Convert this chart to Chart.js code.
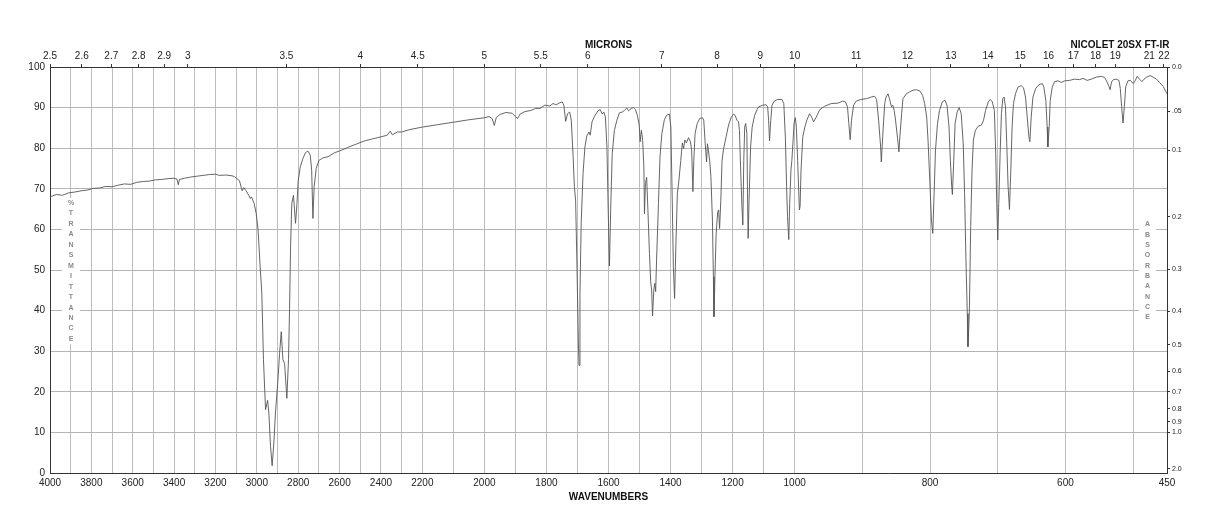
<!DOCTYPE html>
<html>
<head>
<meta charset="utf-8">
<script src="https://cdn.jsdelivr.net/npm/chart.js@4.4.1/dist/chart.umd.min.js"></script>
<style>
  body { margin: 0; background: #fff; }
</style>
</head>
<body>
<canvas id="ir" width="1218" height="528"></canvas>
<script>
// spectrum (wavenumber cm-1 / %T)
const wavenumbers = [
  4000,3970,3940,3910,3880,3850,3820,3790,3760,3730,
  3700,3670,3640,3610,3580,3550,3520,3490,3460,3430,
  3400,3386,3380,3374,3350,3320,3290,3260,3230,3200,
  3181,3150,3120,3108,3084,3071,3063,3052,3039,3032,
  3026,3013,3003,2994,2984,2976,2968,2958,2948,2942,
  2934,2926,2918,2910,2898,2890,2882,2874,2866,2855,
  2847,2842,2837,2831,2823,2813,2806,2800,2790,2777,
  2765,2753,2742,2735,2729,2723,2713,2700,2681,2656,
  2624,2600,2560,2520,2480,2440,2400,2370,2355,2345,
  2320,2300,2260,2220,2200,2150,2100,2050,2000,1985,
  1975,1968,1962,1950,1930,1910,1900,1893,1885,1870,
  1850,1835,1821,1805,1789,1779,1768,1757,1749,1744,
  1738,1732,1725,1720,1714,1710,1706,1702,1697,1695,
  1692,1688,1682,1676,1670,1663,1659,1653,1645,1634,
  1627,1620,1615,1610,1605,1601,1597,1593,1588,1581,
  1573,1565,1556,1549,1541,1535,1527,1520,1513,1507,
  1501,1498,1494,1490,1486,1484,1481,1477,1473,1468,
  1464,1461,1458,1454,1451,1448,1445,1439,1434,1428,
  1420,1413,1404,1399,1394,1391,1387,1383,1378,1373,
  1367,1362,1358,1354,1349,1342,1336,1332,1328,1325,
  1321,1314,1306,1297,1293,1289,1284,1281,1278,1274,
  1270,1265,1262,1260,1257,1253,1248,1245,1242,1238,
  1234,1229,1221,1213,1204,1197,1192,1186,1181,1178,
  1174,1170,1167,1164,1161,1158,1154,1152,1150,1147,
  1142,1137,1129,1121,1116,1103,1092,1087,1084,1081,
  1077,1073,1066,1055,1041,1035,1030,1026,1023,1019,
  1016,1012,1009,1005,1002,999,997.5,995.6,993,992,
  990.6,988,985,982,978,975,972,968,963,956,
  946,936,929,925,922,920,918,916,913,909,
  902,894,887,882,879,876,873,872,870,867,
  865,862,860,857,855,853,851,848,846,845,
  842,840,835,830,825,820,815,811,808,805,
  803,800,798,796,794,792,789,786,782,778,
  775,772,770,768,767,765,763,760,757,754,
  751,749,747,745,744,742,740,738,736,733,
  729,724,721,718,714,711,708,705,703,701.5,
  700,698.5,696.5,694.6,692.6,690.6,688.6,686.7,684.7,682.7,
  680.7,678.8,676.8,673.8,669.9,665.4,662,659,656.5,654,
  652.6,650.6,648,644,639,634,632,629,627,626,
  624,622.5,619.5,616,611,606,601,594,586.5,579,
  574,568,562,554.6,547,542,538.5,535.5,534,532,
  529,525,521,519,517,515,513,511,507.7,504,
  500,497,494,490,487,484,480,475,470.4,465.4,
  460.5,455.6,451.6,450
];
const transmittance = [
  68.0,68.6,68.4,69.0,69.2,69.5,69.7,70.1,70.2,70.6,
  70.5,70.9,71.2,71.1,71.6,71.8,71.9,72.2,72.3,72.5,
  72.6,72.4,71.0,72.3,72.6,72.9,73.1,73.3,73.5,73.6,
  73.3,73.4,73.2,73.0,72.0,69.5,70.3,69.5,68.4,67.6,
  68.0,66.4,63.9,59.8,50.8,44.3,27.9,15.6,17.9,14.8,
  6.6,1.8,7.4,14.8,23.0,29.5,34.8,27.9,27.0,18.4,
  27.9,40.2,55.7,66.4,68.4,61.5,66.4,72.1,75.4,77.5,
  78.9,79.3,78.3,74.6,62.7,70.5,75.0,77.0,77.6,77.9,
  78.9,79.3,80.2,81.0,81.8,82.3,82.8,83.2,84.2,83.3,
  84.0,84.0,84.6,85.0,85.2,85.8,86.4,87.0,87.5,87.8,
  87.3,85.6,87.5,88.3,88.8,88.6,87.8,87.3,88.4,89.0,
  89.3,89.8,89.8,90.6,90.4,91.0,90.7,91.2,91.4,90.6,
  86.6,88.5,88.9,86.9,77.9,70.5,67.2,52.5,32.0,26.5,
  44.3,61.5,73.8,80.3,83.0,84.0,83.2,86.5,87.9,89.2,
  89.5,88.4,88.9,87.7,80.3,64.8,51.0,64.8,78.7,84.4,
  86.9,88.7,88.9,89.3,89.9,89.2,89.8,90.0,89.5,88.1,
  85.7,81.6,84.4,82.0,75.4,63.8,71.3,72.8,64.8,54.1,
  47.1,45.1,38.7,45.1,46.7,44.7,52.5,66.4,77.9,83.6,
  87.0,88.1,88.4,85.2,64.8,50.8,43.0,55.7,68.9,72.1,
  77.0,81.3,79.9,82.0,81.3,82.6,81.6,79.5,69.3,77.0,
  83.6,86.1,87.3,87.5,86.9,82.0,76.6,81.1,79.5,77.0,
  73.0,62.3,48.4,38.5,48.4,59.0,64.3,64.8,60.2,67.2,
  77.0,79.9,82.8,85.7,87.7,88.4,88.1,86.9,86.5,84.4,
  74.6,65.6,61.1,77.0,85.2,86.1,83.6,68.9,57.8,67.2,
  80.3,85.2,88.1,89.5,90.2,90.6,90.7,90.2,86.9,81.8,
  86.9,90.6,91.6,92.0,92.0,91.0,82.8,70.5,63.1,57.5,
  66.4,74.6,77.0,82.0,86.1,87.5,85.2,77.0,64.8,65.6,
  74.6,82.8,85.2,86.9,88.5,87.7,86.5,87.7,89.5,90.3,
  91.0,91.1,91.6,91.4,90.2,86.1,82.1,86.9,90.6,91.6,
  92.0,92.2,92.6,92.8,92.0,86.9,80.3,76.6,82.8,91.0,
  92.6,93.4,92.2,90.2,90.6,89.3,86.9,82.4,79.1,82.0,
  88.5,92.2,93.4,93.9,94.3,94.4,94.1,93.0,91.0,87.7,
  82.0,70.5,62.3,59.0,68.9,79.5,86.1,89.3,91.4,91.8,
  90.6,85.2,77.0,70.5,68.6,77.0,86.1,88.9,90.0,88.5,
  81.1,68.9,52.5,39.3,31.1,39.3,60.7,74.6,82.0,84.4,
  85.4,85.7,86.9,89.3,91.4,92.0,91.4,89.3,78.7,66.4,
  57.4,66.4,78.7,88.5,92.2,92.6,90.2,81.1,70.5,64.9,
  74.6,85.2,91.0,93.4,95.1,95.4,94.9,92.6,87.7,82.8,
  81.6,87.7,92.6,94.7,95.7,95.9,95.1,91.8,85.2,80.3,
  85.2,91.8,95.1,96.4,96.6,96.2,96.6,96.7,97.0,96.9,
  97.2,96.7,97.0,97.5,97.7,97.4,96.3,95.1,94.4,96.3,
  96.9,97.0,96.7,94.7,90.2,86.2,90.2,95.1,96.6,96.7,
  95.9,96.6,97.7,96.9,96.4,97.0,97.5,97.9,97.5,97.0,
  96.1,95.2,93.9,93.4
];

// axis ticks
const wnLabels = [4000,3800,3600,3400,3200,3000,2800,2600,2400,2200,2000,1800,1600,1400,1200,1000,800,600,450];
const micronTicks = [2.5,2.6,2.7,2.8,2.9,3,3.5,4,4.5,5,5.5,6,7,8,9,10,11,12,13,14,15,16,17,18,19,21,22];
const absorbanceTicks = [0,0.05,0.1,0.2,0.3,0.4,0.5,0.6,0.7,0.8,0.9,1.0,2.0];
const absorbanceLabels = ['0.0','.05','0.1','0.2','0.3','0.4','0.5','0.6','0.7','0.8','0.9','1.0','2.0'];

// the paper is three equal panels: 4000-2200, 2200-1000, 1000-450
function pos(wn) {
  if (wn >= 2200) return (4000 - wn) / 1800;
  if (wn >= 1000) return 1 + (2200 - wn) / 1200;
  return 2 + (1000 - wn) / 550;
}

const wnGrid = [];
for (let w = 4000; w >= 1000; w -= 100) wnGrid.push(w);
for (let w = 900; w >= 500; w -= 100) wnGrid.push(w);
wnGrid.push(450);

const FONT = '"Liberation Sans", Arial, Helvetica, sans-serif';
Chart.defaults.font.family = FONT;
Chart.defaults.color = '#222';

const points = wavenumbers.map((w, i) => ({ x: pos(w), y: transmittance[i] }));

const decor = {
  id: 'decor',
  beforeDatasetsDraw(chart) {
    const c = chart.ctx;
    c.save();
    c.fillStyle = '#fff';
    c.fillRect(62, 198, 18, 146);
    c.fillRect(1139, 218, 17, 106);
    c.fillStyle = '#8a8a8a';
    c.font = 'bold 7px ' + FONT;
    c.textAlign = 'center';
    c.textBaseline = 'middle';
    '%TRANSMITTANCE'.split('').forEach((ch, i) => c.fillText(ch, 71, 203 + i * 10.46));
    'ABSORBANCE'.split('').forEach((ch, i) => c.fillText(ch, 1147.5, 224.5 + i * 10.33));
    c.restore();
  },
  afterDraw(chart) {
    const c = chart.ctx;
    const a = chart.chartArea;
    c.save();
    c.fillStyle = '#111';
    c.font = 'bold 10px ' + FONT;
    c.textAlign = 'center';
    c.textBaseline = 'middle';
    c.fillText('MICRONS', (a.left + a.right) / 2, 45);
    c.fillText('WAVENUMBERS', (a.left + a.right) / 2, 497);
    c.fillText('NICOLET 20SX FT-IR', 1120, 45);
    c.restore();
  }
};

new Chart(document.getElementById('ir'), {
  type: 'line',
  data: {
    datasets: [{
      data: points,
      borderColor: '#555',
      borderWidth: 0.9,
      pointRadius: 0,
      tension: 0,
      fill: false
    }]
  },
  options: {
    responsive: false,
    animation: false,
    parsing: false,
    layout: { padding: 0 },
    plugins: { legend: { display: false }, tooltip: { enabled: false } },
    scales: {
      x: {
        type: 'linear', position: 'bottom', min: 0, max: 3,
        afterBuildTicks: s => { s.ticks = wnGrid.map(w => ({ value: pos(w) })); },
        afterFit: s => { s.height = 55; },
        ticks: {
          autoSkip: false, maxRotation: 0, padding: 4, font: { size: 10 },
          callback: (v, i) => wnLabels.includes(wnGrid[i]) ? String(wnGrid[i]) : ''
        },
        grid: { color: '#bdbdbd', drawTicks: false },
        border: { color: '#333' }
      },
      xTop: {
        type: 'linear', position: 'top', min: 0, max: 3,
        afterBuildTicks: s => { s.ticks = micronTicks.map(m => ({ value: pos(10000 / m) })); },
        afterFit: s => { s.height = 67; },
        ticks: {
          autoSkip: false, maxRotation: 0, padding: 2, font: { size: 10 },
          callback: (v, i) => String(micronTicks[i])
        },
        grid: { drawOnChartArea: false, tickLength: 3, tickColor: '#333' },
        border: { color: '#333' }
      },
      y: {
        position: 'left', min: 0, max: 100,
        afterFit: s => { s.width = 50; },
        ticks: { stepSize: 10, padding: 5, font: { size: 10 } },
        grid: { color: '#b4b4b4', drawTicks: false },
        border: { color: '#333' }
      },
      yAbs: {
        position: 'right', min: 0, max: 100,
        afterBuildTicks: s => { s.ticks = absorbanceTicks.map(a => ({ value: 100 * Math.pow(10, -a) })); },
        afterFit: s => { s.width = 51; },
        ticks: {
          autoSkip: false, padding: 2, font: { size: 7 },
          callback: (v, i) => absorbanceLabels[i]
        },
        grid: { drawOnChartArea: false, tickLength: 3, tickColor: '#333' },
        border: { color: '#333' }
      }
    }
  },
  plugins: [decor]
});
</script>
</body>
</html>
